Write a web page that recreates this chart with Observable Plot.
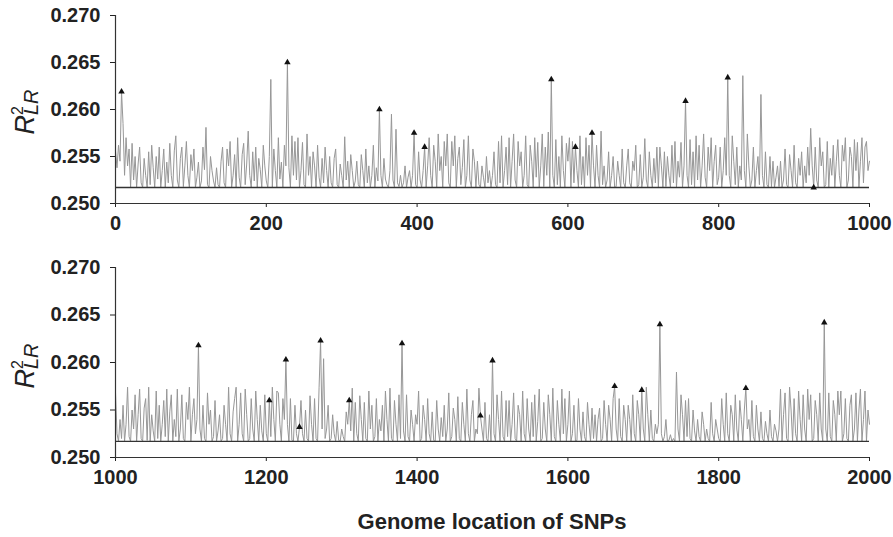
<!DOCTYPE html>
<html><head><meta charset="utf-8">
<script src="https://cdn.jsdelivr.net/npm/d3@7"></script>
<script src="https://cdn.jsdelivr.net/npm/@observablehq/plot@0.6"></script>
<style>
body{margin:0;background:#fff;}
#chart{width:893px;}
#chart svg{display:block;}
.caption{font-family:"Liberation Sans",Arial,sans-serif;font-weight:bold;font-size:22px;color:#222;box-sizing:border-box;width:893px;height:37px;padding:11px 24px 0 115px;text-align:center;line-height:22px;}
</style></head><body><div id="chart"></div>
<script>
// SNP spacing of the sampled series
const step = 2;
const topStart = 0;
const bottomStart = 1000;
// R2_LR values, in units of 0.0001 above 0.250, every 2 SNPs
const topValues = [
56,38,62,45,119,85,30,70,40,58,17,64,25,50,17,42,60,22,17,48,
30,17,55,20,62,38,17,50,26,60,17,35,58,17,44,22,64,30,17,56,
72,25,17,48,60,18,40,66,30,17,52,35,58,17,28,44,17,24,60,36,
81,20,17,50,35,24,17,38,20,17,45,60,22,17,58,40,66,17,30,52,
17,70,28,17,52,64,20,42,77,30,17,55,24,60,17,48,36,17,62,40,
24,17,50,132,17,58,35,17,70,26,44,17,62,40,150,38,17,72,30,66,
25,70,17,35,65,20,17,74,30,50,17,55,40,17,62,28,17,48,22,60,
35,17,50,22,17,48,58,20,17,42,30,17,71,25,45,17,52,35,17,24,
45,20,17,52,35,17,58,22,40,17,30,62,17,38,24,100,30,17,48,26,
20,17,35,95,25,17,79,22,18,30,17,22,40,17,28,35,17,30,75,20,
17,55,25,17,35,60,17,40,70,30,17,62,45,17,74,35,50,17,66,40,
74,22,17,66,40,72,17,48,60,20,38,68,17,30,72,25,17,58,45,17,
45,20,17,40,28,17,50,22,35,17,30,55,20,17,66,22,72,17,35,60,
20,70,17,45,74,25,17,66,40,55,17,30,72,20,17,62,45,17,70,28,
65,17,40,74,18,60,30,76,17,132,30,17,68,20,50,17,72,35,17,64,
45,70,17,66,22,60,35,17,72,20,50,17,70,30,62,17,75,40,17,62,
30,17,77,20,40,17,25,55,17,30,50,17,18,45,30,17,58,22,17,40,
58,22,17,45,35,62,17,20,52,17,28,69,25,17,55,30,17,48,22,60,
17,60,40,17,55,18,50,30,17,62,22,66,17,45,28,65,17,40,109,30,
17,68,20,55,17,72,25,62,17,40,74,28,17,60,35,70,17,45,62,20,
28,60,17,35,70,30,134,30,17,72,45,20,60,17,40,25,136,35,17,74,
40,17,25,60,17,35,50,20,116,30,17,55,20,17,50,18,45,17,28,40,
18,45,17,25,58,20,17,52,35,17,62,22,17,48,30,55,17,40,22,60,
30,80,40,17,60,25,17,70,40,55,17,20,66,17,48,30,62,17,45,68,
30,17,62,45,70,17,25,60,50,17,68,35,65,17,45,70,22,60,66,35,
45
];
const bottomValues = [
68,25,17,40,20,55,17,35,74,22,17,50,30,66,17,45,72,20,17,52,
62,18,74,17,45,28,17,70,20,55,17,35,60,22,72,17,48,66,17,40,
22,72,17,30,66,20,17,58,40,74,17,45,62,25,40,118,30,17,55,20,
17,68,35,50,17,22,60,17,28,45,17,20,55,35,17,74,25,17,48,62,
74,17,35,68,25,17,72,45,17,20,62,30,17,70,40,17,55,28,17,66,
25,17,60,22,74,40,17,70,68,35,17,62,40,103,35,17,62,18,17,55,
25,17,32,60,25,17,50,20,17,65,35,17,62,20,17,74,123,30,104,20,
30,55,17,20,45,25,17,38,18,17,30,22,17,48,35,60,28,73,17,58,
25,17,65,40,17,58,20,17,70,30,55,17,22,62,17,40,28,55,17,70,
40,17,73,20,17,60,35,17,66,20,120,28,17,66,22,17,50,35,17,45,
35,70,17,20,55,40,17,62,25,17,48,18,17,60,30,17,42,22,55,17,
30,68,17,22,52,40,17,64,20,17,58,35,17,72,25,17,45,60,17,30,
25,73,44,30,17,58,20,17,45,17,102,25,17,66,40,17,70,22,17,60,
22,60,17,35,68,20,17,55,45,17,70,25,17,62,30,17,58,22,66,17,
38,72,17,20,58,30,17,66,45,17,73,22,17,60,35,17,72,25,62,17,
35,70,17,25,55,17,18,62,30,17,48,22,17,58,35,17,52,20,45,17,
40,52,17,20,60,35,17,55,40,17,62,75,30,17,62,22,17,55,40,17,
55,40,17,66,25,17,60,45,17,71,30,17,74,45,17,50,20,17,35,25,
35,140,25,17,22,40,17,18,24,17,20,17,90,30,17,66,45,17,60,22,
62,20,17,50,28,17,40,22,17,48,35,17,30,20,17,58,25,17,40,30,
20,17,62,35,17,68,25,17,55,45,17,66,30,17,60,40,17,50,73,30,
40,17,60,22,17,55,30,17,48,20,17,38,25,17,50,22,17,35,28,17,
30,72,17,45,68,20,17,74,50,17,62,25,17,70,40,17,66,30,17,72,
40,66,17,20,60,45,17,68,30,17,142,30,17,68,22,17,60,45,17,70,
45,70,17,25,62,20,17,55,66,17,30,68,17,50,72,17,40,70,17,50,
35
];
// marked SNPs (triangles) and their values (0.0001 units above 0.250)
const topPeakSNPs = [8,228,350,396,410,578,610,632,756,812,926];
const topPeakValues = [119,150,100,75,60,132,60,75,109,134,17];
const bottomPeakSNPs = [1110,1204,1226,1244,1272,1310,1380,1484,1500,1662,1698,1722,1836,1940];
const bottomPeakValues = [118,60,103,32,123,60,120,44,102,75,71,140,73,142];
const baselineValue = 0.2517;
const yTicks = [0.250,0.255,0.260,0.265,0.270];
const topXTicks = [0,200,400,600,800,1000];
const bottomXTicks = [1000,1200,1400,1600,1800,2000];
const xTitle = "Genome location of SNPs";

const toSeries = (vals, start) => vals.map((v,i)=>({snp: start + i*step, r2: 0.25 + v/10000}));
const toPeaks = (snps, vals) => snps.map((s,i)=>({snp: s, r2: 0.25 + vals[i]/10000}));

function panel(series, peaks, xDomain, xTicks, marginTop, marginBottom, labelY) {
  const svg = Plot.plot({
    width: 893, height: 250, marginLeft: 115, marginRight: 24, marginTop, marginBottom,
    style: {fontFamily: "'Liberation Sans', Arial, sans-serif", fontSize: "20px", fontWeight: "bold", color: "#222", background: "#fff", overflow: "visible"},
    x: {domain: xDomain, ticks: xTicks, tickSize: 4, tickPadding: 8, label: null, tickFormat: d3.format("d")},
    y: {domain: [0.25, 0.27], ticks: yTicks, tickSize: 5, tickPadding: 10, tickFormat: d3.format(".3f"), label: null},
    marks: [
      Plot.line(series, {x: "snp", y: "r2", stroke: "#979797", strokeWidth: 1}),
      Plot.ruleY([baselineValue], {stroke: "#333", strokeWidth: 1.4}),
      Plot.ruleX([xDomain[0]], {stroke: "#333", strokeWidth: 1.2}),
      Plot.ruleY([0.25], {stroke: "#333", strokeWidth: 1.2}),
      Plot.dot(peaks, {x: "snp", y: "r2", symbol: "triangle", r: 2.4, fill: "#111", stroke: null})
    ]
  });
  const t = d3.select(svg).append("text")
    .attr("transform", `translate(34,${labelY}) rotate(-90)`)
    .attr("text-anchor", "middle")
    .attr("font-weight", "normal")
    .attr("fill", "#222")
    .style("font-family", "'Liberation Sans', Arial, sans-serif");
  t.append("tspan").attr("font-style", "italic").attr("font-size", 27).text("R");
  t.append("tspan").attr("font-size", 16).attr("dy", -11).text("2");
  t.append("tspan").attr("font-style", "italic").attr("font-size", 20).attr("dx", -9).attr("dy", 15).text("LR");
  return svg;
}

const chart = document.getElementById("chart");
chart.appendChild(panel(toSeries(topValues, topStart), toPeaks(topPeakSNPs, topPeakValues), [0,1000], topXTicks, 15, 47, 112));
chart.appendChild(panel(toSeries(bottomValues, bottomStart), toPeaks(bottomPeakSNPs, bottomPeakValues), [1000,2000], bottomXTicks, 17, 43, 116));
const cap = document.createElement("div");
cap.className = "caption";
cap.textContent = xTitle;
chart.appendChild(cap);
</script>
</body></html>
